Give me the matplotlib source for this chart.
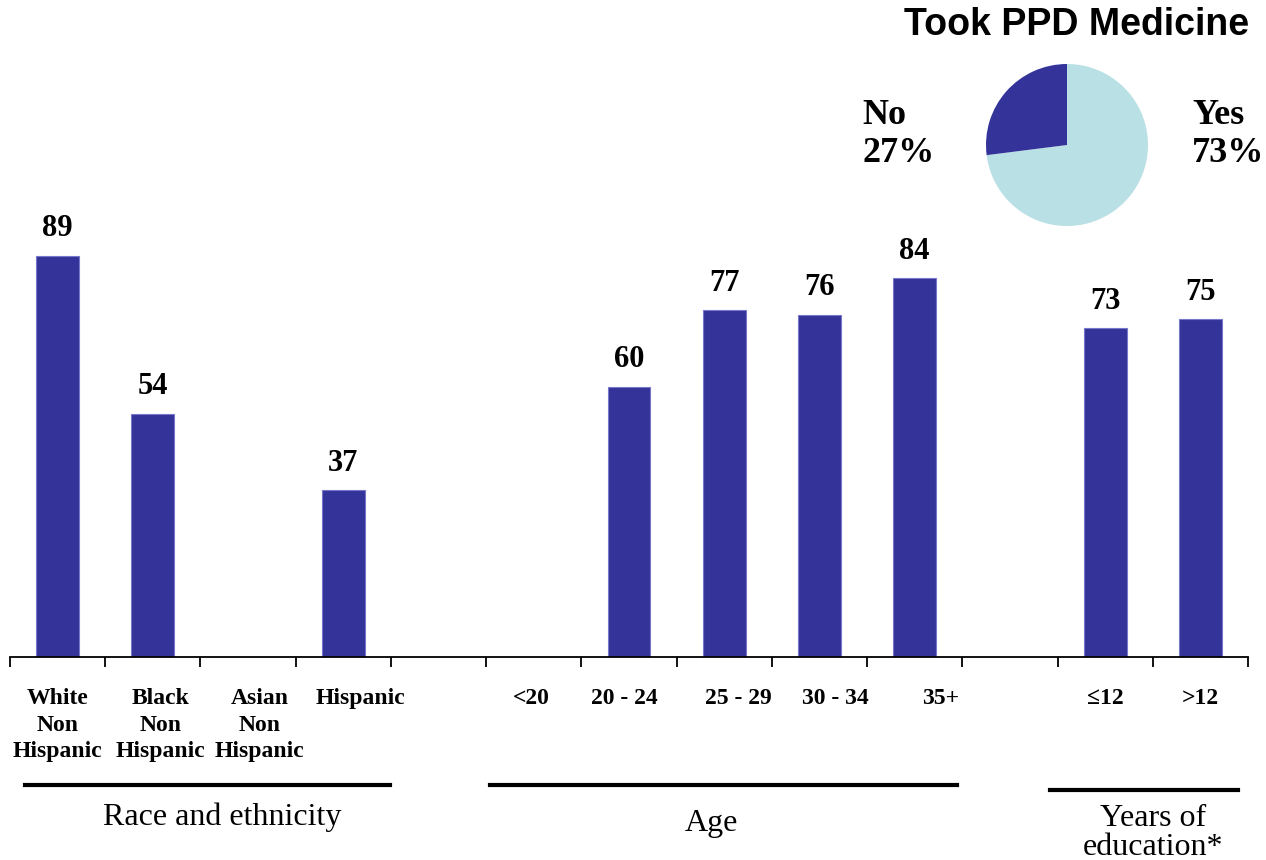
import matplotlib
matplotlib.use("Agg")
import matplotlib.pyplot as plt
from matplotlib.lines import Line2D
import matplotlib.transforms as mtransforms

# ---- data ----
categories = ["White\nNon\nHispanic", "Black\nNon\nHispanic", "Asian\nNon\nHispanic", "Hispanic", "",
              "<20", "20 - 24", "25 - 29", "30 - 34", "35+", "",
              "≤12", ">12"]
values = [89, 54, None, 37, None, None, 60, 77, 76, 84, None, 73, 75]
groups = ["Race and ethnicity", "Age", "Years of\neducation*"]
pie_labels = ["Yes", "No"]
pie_values = [73, 27]
pie_title = "Took PPD Medicine"

# ---- style ----
BAR = "#333399"
LIGHT = "#B9E0E4"
W, H = 1266, 860
fig = plt.figure(figsize=(W / 100, H / 100), dpi=100)

ax_bottom_px = 657
ax = fig.add_axes([10 / W, 1 - ax_bottom_px / H, (1248 - 10) / W, ax_bottom_px / H])
n = len(categories)
ax.set_xlim(-0.5, n - 0.5)
ax.set_ylim(0, 145.8)

xs = list(range(n))
for x, v in zip(xs, values):
    if v is None:
        continue
    ax.bar(x, v, width=0.45, color=BAR, edgecolor="#7777CC", linewidth=0.8)
    ax.annotate(str(v), (x, v), xytext=(0, 9), textcoords="offset points",
                ha="center", va="bottom", fontsize=22, fontweight="bold",
                family="Liberation Serif")

for s in ["top", "right", "left"]:
    ax.spines[s].set_visible(False)
ax.spines["bottom"].set_linewidth(1.3)
ax.set_yticks([])
ax.set_xticks([i - 0.5 for i in range(n + 1)])
ax.set_xticklabels([])
ax.tick_params(axis="x", direction="out", length=7, width=1.3)

trans = mtransforms.blended_transform_factory(ax.transData, ax.transAxes)


def ay(ypx):
    return (ax_bottom_px - ypx) / ax_bottom_px


label_dx = [0, 0.08, 0.12, 0.18, 0, -0.03, -0.05, 0.15, 0.17, 0.27, 0, 0, 0]
for x, lab, dx in zip(xs, categories, label_dx):
    if not lab:
        continue
    ax.text(x + dx, ay(688), lab, transform=trans, ha="center", va="top",
            fontsize=17, fontweight="bold", family="Liberation Serif",
            linespacing=1.35, clip_on=False)

# group lines and labels
group_lines = [(-0.34, 3.49, 785), (4.54, 9.44, 785), (10.42, 12.4, 790)]
group_text = [(1.726, 817), (6.87, 823), (11.5, 833)]
for (x0, x1, ypx), (tx, typx), g in zip(group_lines, group_text, groups):
    ax.add_line(Line2D([x0, x1], [ay(ypx), ay(ypx)], transform=trans,
                       color="black", linewidth=3, clip_on=False))
    ax.text(tx, ay(typx), g, transform=trans, ha="center", va="center",
            fontsize=23, family="Liberation Serif", linespacing=1.0, clip_on=False)

# ---- pie inset ----
cx, cy, r = 1067, 145, 81
pax = fig.add_axes([(cx - r) / W, 1 - (cy + r) / H, 2 * r / W, 2 * r / H])
pax.pie(pie_values, colors=[LIGHT, BAR], startangle=90, counterclock=False,
        radius=1.0)
pax.set_xlim(-1, 1)
pax.set_ylim(-1, 1)
pax.set_aspect("equal")
pax.axis("off")

fig.text(1077 / W, 1 - 25 / H, pie_title, ha="center", va="center",
         fontsize=27, fontweight="bold", family="Liberation Sans")
fig.text(862 / W, 1 - 134 / H, f"{pie_labels[1]}\n{pie_values[1]}%", ha="left", va="center",
         fontsize=26, fontweight="bold", family="Liberation Serif", linespacing=1.2)
fig.text(1192 / W, 1 - 134 / H, f"{pie_labels[0]}\n{pie_values[0]}%", ha="left", va="center",
         fontsize=26, fontweight="bold", family="Liberation Serif", linespacing=1.2)

fig.savefig("out.png", dpi=100)
